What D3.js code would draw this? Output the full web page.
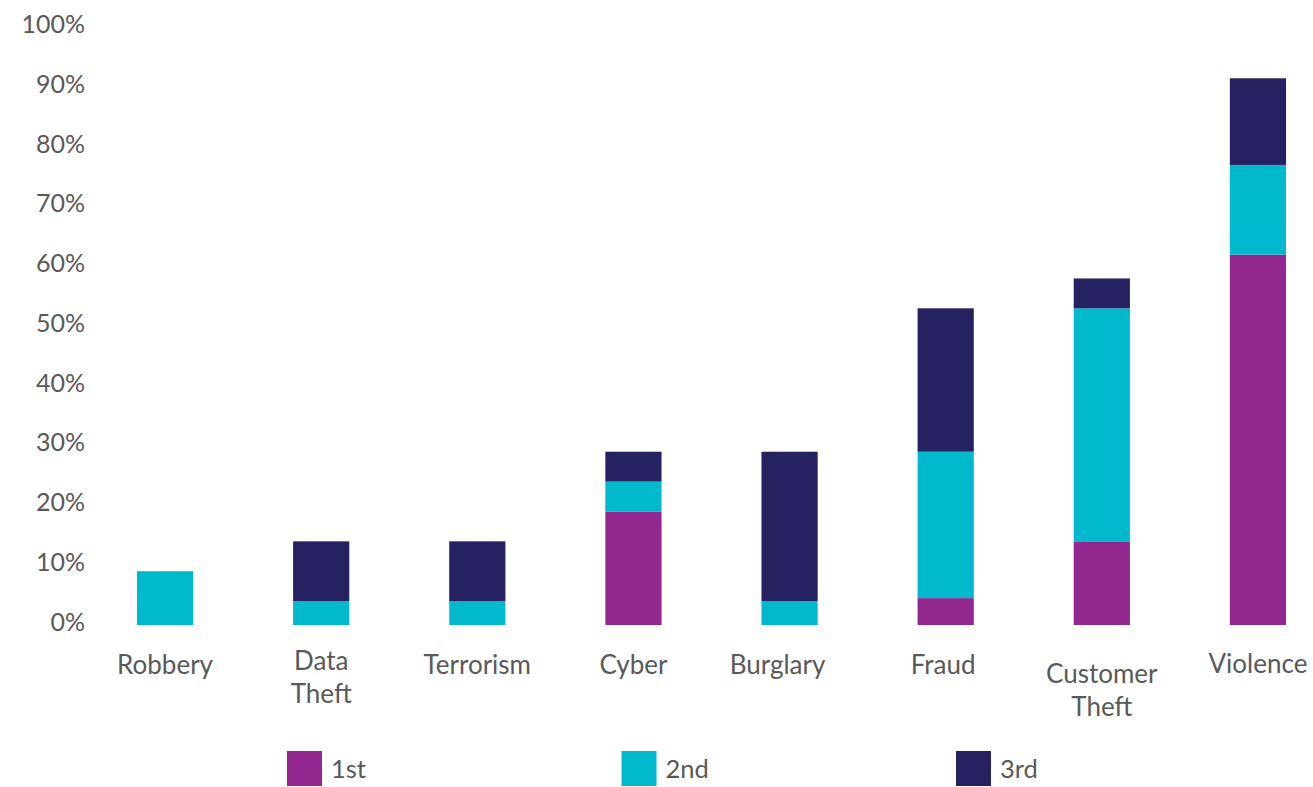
<!DOCTYPE html>
<html>
<head>
<meta charset="utf-8">
<script src="https://cdn.jsdelivr.net/npm/d3@7"></script>
<style>
  html, body { margin: 0; padding: 0; background: #fff; }
  svg { display: block; font-family: Lato, "Open Sans", sans-serif; }
</style>
</head>
<body>
<svg id="chart" width="1313" height="787"></svg>
<script>
// Crime categories, in display order
const categories = ["Robbery", "Data Theft", "Terrorism", "Cyber", "Burglary", "Fraud", "Customer Theft", "Violence"];
// How category names wrap on the axis
const categoryLines = [["Robbery"], ["Data", "Theft"], ["Terrorism"], ["Cyber"], ["Burglary"], ["Fraud"], ["Customer", "Theft"], ["Violence"]];
// Share of respondents ranking each crime 1st / 2nd / 3rd (%)
const first  = [0, 0, 0, 19, 0, 4.5, 14, 62];
const second = [9, 4, 4, 5, 4, 24.5, 39, 15];
const third  = [0, 10, 10, 5, 25, 24, 5, 14.5];
const seriesNames = ["1st", "2nd", "3rd"];
const seriesColors = ["#92278F", "#00B9CC", "#262262"];
const yTicks = [0, 10, 20, 30, 40, 50, 60, 70, 80, 90, 100];

const svg = d3.select("#chart");
const textColor = "#595959";

const rows = categories.map((c, i) => ({ cat: c, "1st": first[i], "2nd": second[i], "3rd": third[i] }));
const stacked = d3.stack().keys(seriesNames)(rows);

const x = d3.scaleBand().domain(categories).range([87, 1336]).paddingInner(0.64).paddingOuter(0.32);
const y = d3.scaleLinear().domain([0, 100]).range([625, 27.5]);

// Y axis labels (no axis line, no ticks)
const yAxis = d3.axisLeft(y).tickValues(yTicks).tickFormat(d => d + "%").tickSize(0).tickPadding(0);
const yg = svg.append("g").attr("transform", "translate(85,0)").call(yAxis);
yg.select(".domain").remove();
yg.selectAll("text")
  .attr("fill", textColor)
  .style("font-size", "25px")
  .style("font-family", "Lato, sans-serif")
  .attr("dy", "0.2em");

// Stacked bars
svg.append("g").selectAll("g")
  .data(stacked)
  .join("g")
  .attr("fill", (d, i) => seriesColors[i])
  .selectAll("rect")
  .data(d => d.filter(s => s[1] - s[0] > 0))
  .join("rect")
  .attr("x", d => x(d.data.cat))
  .attr("width", x.bandwidth())
  .attr("y", d => y(d[1]))
  .attr("height", d => y(d[0]) - y(d[1]));

// Category labels (some are nudged off the bar centre)
const catBaseline = [674, 670, 674, 674, 674, 674, 683, 673];
const catShift = [0, 0, 0, 0, -12, -2.5, 0, 0];
const xg = svg.append("g");
categories.forEach((c, i) => {
  const cx = x(c) + x.bandwidth() / 2 + catShift[i];
  const t = xg.append("text")
    .attr("x", cx)
    .attr("y", catBaseline[i])
    .attr("text-anchor", "middle")
    .attr("fill", textColor)
    .style("font-size", "26px");
  categoryLines[i].forEach((line, j) => {
    t.append("tspan")
      .attr("x", cx)
      .attr("dy", j === 0 ? 0 : 33)
      .text(line);
  });
});

// Legend
const legendX = d3.scalePoint().domain(seriesNames).range([287, 956]);
const lg = svg.append("g").selectAll("g")
  .data(seriesNames)
  .join("g")
  .attr("transform", d => `translate(${legendX(d)},751)`);
lg.append("rect")
  .attr("width", 35).attr("height", 35)
  .attr("fill", (d, i) => seriesColors[i]);
lg.append("text")
  .attr("x", 44).attr("y", 27)
  .attr("fill", textColor)
  .style("font-size", "25.5px")
  .text(d => d);
</script>
</body>
</html>
